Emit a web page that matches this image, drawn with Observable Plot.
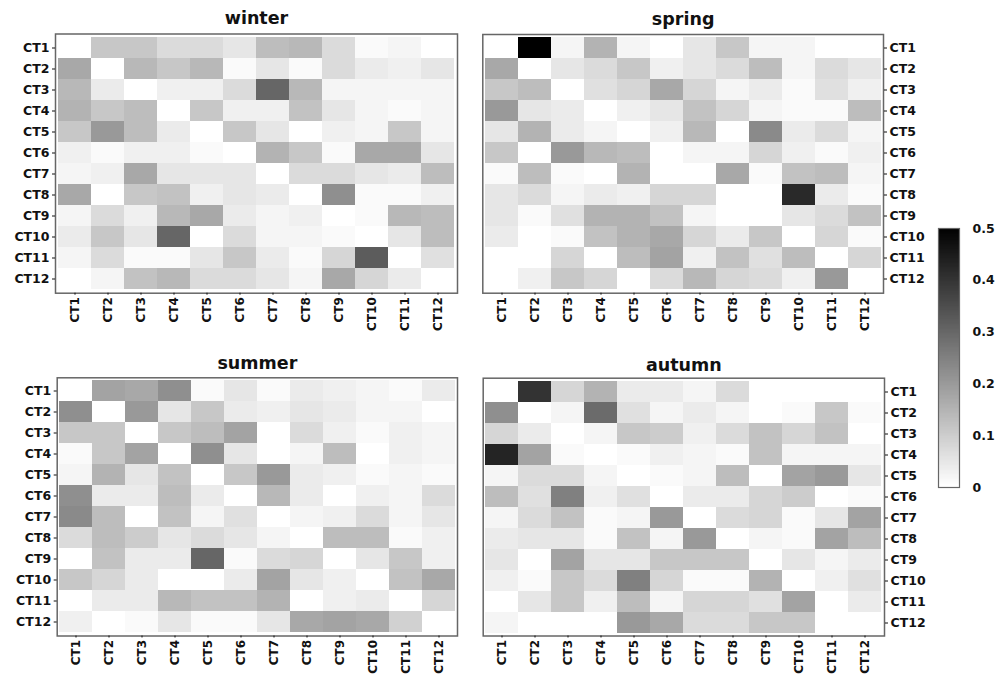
<!DOCTYPE html>
<html>
<head>
<meta charset="utf-8">
<script src="https://cdn.jsdelivr.net/npm/d3@7"></script>
<script src="https://cdn.jsdelivr.net/npm/@observablehq/plot@0.6"></script>
<style>
  html, body { margin: 0; padding: 0; background: #fff; }
  #root { position: relative; width: 1006px; height: 674px; overflow: hidden; }
  #root > div { position: absolute; }
</style>
</head>
<body>
<div id="root"></div>
<script>
const cats = ["CT1","CT2","CT3","CT4","CT5","CT6","CT7","CT8","CT9","CT10","CT11","CT12"];
const colorTicks = [0, 0.1, 0.2, 0.3, 0.4, 0.5];

// rows = CT1..CT12 (y), columns = CT1..CT12 (x)
const winter = [
  [0, .11, .11, .07, .07, .05, .13, .14, .07, .01, .02, 0],
  [.17, 0, .14, .11, .14, .01, .05, .01, .07, .04, .03, .05],
  [.14, .04, 0, .03, .03, .07, .30, .14, .02, .02, .02, .02],
  [.15, .11, .13, 0, .11, .03, .03, .12, .05, .02, .01, .02],
  [.11, .20, .13, .04, 0, .11, .05, 0, .03, .02, .11, .02],
  [.03, .01, .03, .03, .01, 0, .15, .11, .01, .17, .17, .05],
  [.02, .03, .17, .05, .05, .05, 0, .07, .07, .05, .04, .13],
  [.17, 0, .11, .12, .03, .05, .04, 0, .22, .01, .01, .03],
  [.02, .07, .03, .14, .17, .04, .02, .03, 0, .01, .14, .13],
  [.04, .11, .05, .30, 0, .07, .02, .02, .01, 0, .05, .13],
  [.02, .07, .01, .01, .05, .11, .04, .01, .08, .32, 0, .06],
  [0, .02, .12, .14, .07, .07, .05, .02, .17, .08, .04, 0]
];
const spring = [
  [0, .50, .02, .15, .02, 0, .05, .11, .02, .02, 0, 0],
  [.17, 0, .05, .07, .11, .03, .05, .07, .13, .02, .07, .05],
  [.11, .13, 0, .06, .08, .17, .08, .02, .04, .01, .06, .03],
  [.20, .05, .04, 0, .03, .05, .12, .08, .02, .01, .01, .13],
  [.05, .15, .04, .02, 0, .03, .14, 0, .23, .04, .07, .02],
  [.11, 0, .20, .14, .13, 0, .02, .02, .08, .03, .01, .03],
  [.01, .13, .01, 0, .15, 0, 0, .17, .01, .12, .13, .02],
  [.05, .07, .02, .04, .03, .08, .08, 0, 0, .42, .04, .01],
  [.05, .01, .06, .15, .15, .12, .02, 0, 0, .05, .07, .12],
  [.04, 0, .01, .12, .15, .17, .08, .04, .11, 0, .08, .01],
  [0, 0, .08, 0, .13, .18, .03, .12, .06, .13, 0, .08],
  [0, .03, .11, .08, 0, .07, .14, .08, .07, .03, .20, 0]
];
const summer = [
  [0, .18, .17, .22, .01, .05, .01, .04, .03, .02, .01, .04],
  [.22, 0, .20, .05, .11, .04, .03, .05, .04, .02, .02, 0],
  [.11, .11, 0, .11, .13, .18, 0, .07, .03, .01, .03, .02],
  [.01, .11, .18, 0, .22, .05, 0, .02, .13, 0, .03, .02],
  [.02, .15, .05, .12, 0, .11, .20, .04, .03, .01, .02, .01],
  [.22, .04, .04, .13, .04, 0, .14, .04, 0, .03, .02, .07],
  [.23, .13, 0, .12, .02, .06, 0, .02, .03, .07, .02, .05],
  [.07, .13, .10, .05, .07, .05, .02, 0, .13, .13, .01, .03],
  [0, .12, .04, .04, .30, .01, .07, .08, 0, .05, .11, .03],
  [.11, .08, .04, 0, 0, .04, .18, .05, .03, 0, .12, .17],
  [0, .04, .04, .14, .12, .12, .15, 0, .03, .04, 0, .08],
  [.03, 0, .01, .05, .01, .01, .05, .17, .18, .17, .09, 0]
];
const autumn = [
  [0, .40, .08, .15, .04, .04, .02, .07, 0, 0, 0, 0],
  [.22, 0, .02, .29, .06, .02, .04, .02, 0, .01, .11, .01],
  [.08, .04, 0, .02, .11, .10, .03, .07, .12, .08, .12, 0],
  [.43, .18, .01, 0, .01, .03, .02, .01, .12, .02, .02, .02],
  [.02, .07, .07, .02, 0, .01, .02, .13, 0, .18, .20, .05],
  [.13, .06, .25, .03, .06, 0, .04, .04, .08, .10, 0, .01],
  [.02, .07, .12, .01, .02, .20, 0, .07, .08, .01, .05, .18],
  [.04, .05, .05, .01, .12, .02, .20, 0, .02, .01, .18, .13],
  [.05, 0, .18, .05, .05, .11, .11, .11, 0, .05, .02, .04],
  [.03, .01, .11, .07, .25, .08, .01, .01, .15, 0, .03, .06],
  [0, .05, .11, .03, .13, .02, .08, .08, .06, .18, 0, .04],
  [.02, 0, 0, 0, .20, .17, .07, .07, .11, .11, 0, 0]
];

const colorScale = {type: "linear", domain: [0, 0.5], range: ["#ffffff", "#000000"]};
const baseStyle = {fontFamily: "DejaVu Sans, sans-serif", fontSize: "12px", fontWeight: "bold", color: "#111", background: "transparent"};

function panel(title, matrix, o) {
  const cells = matrix.flatMap((row, i) => row.map((v, j) => ({row: cats[i], col: cats[j], v})));
  return Plot.plot({
    width: o.width, height: o.height,
    marginLeft: o.ml, marginRight: o.mr, marginTop: o.mt, marginBottom: o.mb,
    style: baseStyle,
    x: {domain: cats, padding: 0, label: null},
    y: {domain: cats, padding: 0, label: null},
    color: colorScale,
    marks: [
      Plot.cell(cells, {x: "col", y: "row", fill: "v", inset: 0, shapeRendering: "crispEdges"}),
      Plot.frame({stroke: "#666", strokeWidth: 1.5}),
      Plot.axisX({tickRotate: -90, tickSize: 2, tickPadding: 2, label: null, fontSize: 12}),
      Plot.axisY({anchor: o.yAnchor, tickSize: 3, tickPadding: 3, label: null, fontSize: 12.5}),
      Plot.text([title], {frameAnchor: "top", lineAnchor: "middle", dy: o.tdy, fontSize: 17.5, fontWeight: "bold", fill: "#111"})
    ]
  });
}

function place(node, left, top) {
  const d = document.createElement("div");
  d.style.left = left + "px";
  d.style.top = top + "px";
  d.appendChild(node);
  document.getElementById("root").appendChild(d);
}

place(panel("winter", winter, {width: 470, height: 340, ml: 55, mr: 13, mt: 33.5, mb: 47.3, yAnchor: "left", tdy: -15.5}), 0, 0);
place(panel("spring", spring, {width: 460, height: 340, ml: 12.3, mr: 47, mt: 34, mb: 47.3, yAnchor: "right", tdy: -15.5}), 470, 0);
place(panel("summer", summer, {width: 470, height: 334, ml: 56.7, mr: 13, mt: 37.3, mb: 38.5, yAnchor: "left", tdy: -14}), 0, 340);
place(panel("autumn", autumn, {width: 460, height: 334, ml: 12.7, mr: 46, mt: 37.7, mb: 38.5, yAnchor: "right", tdy: -13}), 470, 340);

// colour bar
const steps = d3.range(0, 0.5, 0.0025).map(v => ({v0: v, v1: v + 0.004}));
const bar = Plot.plot({
  width: 76, height: 300,
  marginLeft: 8, marginRight: 47, marginTop: 28, marginBottom: 13,
  style: baseStyle,
  x: {domain: [0, 1], axis: null},
  y: {domain: [0, 0.5], axis: null},
  color: colorScale,
  marks: [
    Plot.rect(steps, {x1: 0, x2: 1, y1: "v0", y2: d => Math.min(0.5, d.v1), fill: "v0", shapeRendering: "crispEdges"}),
    Plot.frame({stroke: "#666", strokeWidth: 1.2}),
    Plot.axisY({anchor: "right", ticks: colorTicks, tickSize: 0, tickPadding: 13, label: null, fontSize: 12.5,
      tickFormat: d => d === 0 ? "0" : d3.format(".1f")(d)})
  ]
});
place(bar, 930, 200);
</script>
</body>
</html>
